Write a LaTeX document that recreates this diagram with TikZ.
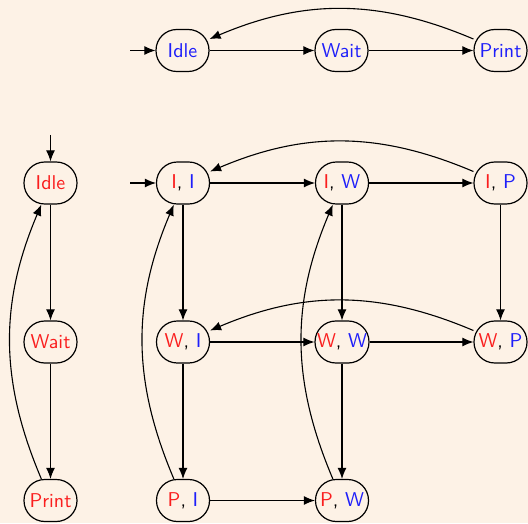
\documentclass[tikz,border=0pt]{standalone}
\usetikzlibrary{arrows.meta}
\definecolor{bgcol}{RGB}{253,242,230}
\definecolor{tred}{RGB}{250,30,30}
\definecolor{tblue}{RGB}{30,30,250}
\begin{document}
\begin{tikzpicture}[x=0.5pt,y=-0.5pt,
  state/.style={draw=black,line width=0.6pt,rounded corners=10.4pt,minimum width=26.5pt,minimum height=21pt,inner sep=1pt,font=\sffamily\fontsize{10}{12}\selectfont},
  arr/.style={line width=0.55pt,-{Latex[length=5.5pt,width=4.5pt]}},
  R/.style={text=tred}, B/.style={text=tblue}]
\fill[bgcol] (0,0) rectangle (528,523);
\useasboundingbox (0,0) rectangle (528,523);
% top row
\node[state,B] (tI) at (182.5,50.5) {Idle};
\node[state,B] (tW) at (341.5,50.5) {Wait};
\node[state,B] (tP) at (500.5,50.5) {Print};
\coordinate (tS) at (130,50.5);
\draw[arr] (tS) -- (tI);
\draw[arr] (tI) -- (tW);
\draw[arr] (tW) -- (tP);
\draw[arr] (tP) to[bend right=23] (tI);
% left column
\node[state,R] (lI) at (50.5,183) {Idle};
\node[state,R] (lW) at (50.5,342) {Wait};
\node[state,R] (lP) at (50.5,500.5) {Print};
\coordinate (lS) at (50.5,135);
\draw[arr] (lS) -- (lI);
\draw[arr] (lI) -- (lW);
\draw[arr] (lW) -- (lP);
\draw[arr] (lP) to[bend left=23] (lI);
% grid
\newcommand{\lab}[2]{\textcolor{tred}{#1}, \textcolor{tblue}{#2}}
\node[state] (II) at (183,183) {\lab{I}{I}};
\node[state] (IW) at (342,183) {\lab{I}{W}};
\node[state] (IP) at (500.5,183) {\lab{I}{P}};
\node[state] (WI) at (183,342) {\lab{W}{I}};
\node[state] (WW) at (342,342) {\lab{W}{W}};
\node[state] (WP) at (500.5,342) {\lab{W}{P}};
\node[state] (PI) at (183,500.5) {\lab{P}{I}};
\node[state] (PW) at (342,500.5) {\lab{P}{W}};
\coordinate (gS) at (130,183);
\draw[arr] (gS) -- (II);
\draw[arr] (II) -- (IW);
\draw[arr] (IW) -- (IP);
\draw[arr] (IP) to[bend right=23] (II);
\draw[arr] (II) -- (WI);
\draw[arr] (IW) -- (WW);
\draw[arr] (IP) -- (WP);
\draw[arr] (WI) -- (WW);
\draw[arr] (WW) -- (WP);
\draw[arr] (WP) to[bend right=23] (WI);
\draw[arr] (WI) -- (PI);
\draw[arr] (WW) -- (PW);
\draw[arr] (PI) -- (PW);
\draw[arr] (PI) to[bend left=23] (II);
\draw[arr] (PW) to[bend left=23] (IW);
\end{tikzpicture}
\end{document}
